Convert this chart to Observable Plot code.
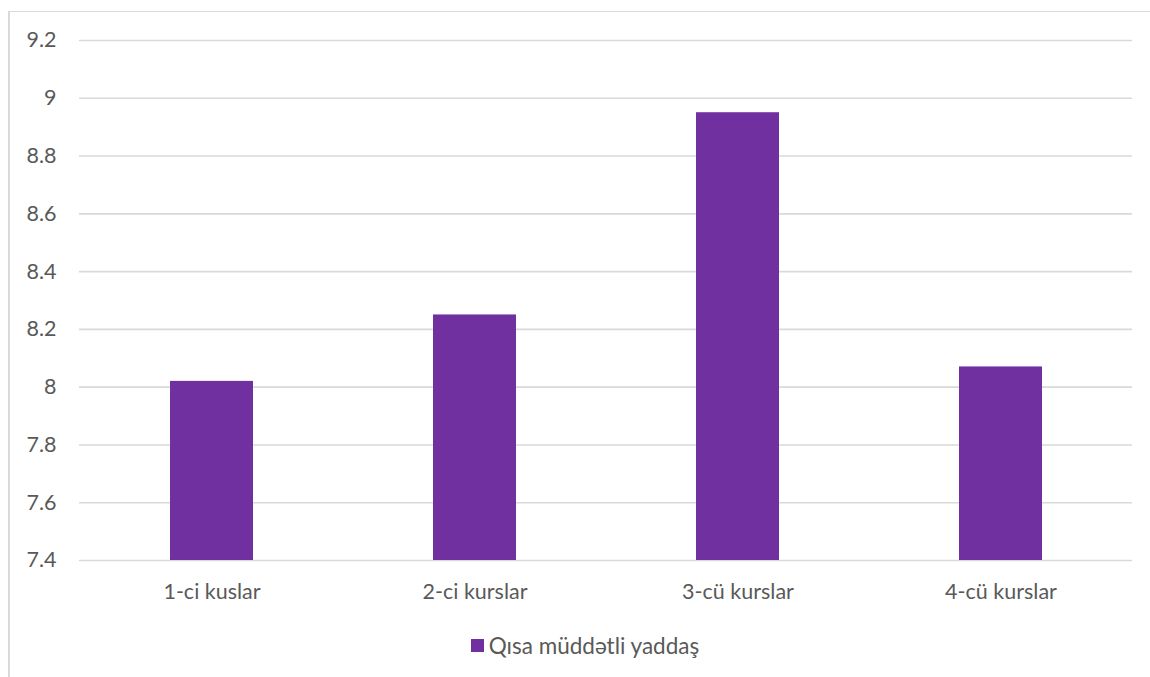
<!DOCTYPE html>
<html>
<head>
<meta charset="utf-8">
<script src="https://cdn.jsdelivr.net/npm/d3@7"></script>
<script src="https://cdn.jsdelivr.net/npm/@observablehq/plot@0.6"></script>
<style>
  html, body { margin: 0; padding: 0; background: #fff; }
  body { width: 1150px; height: 677px; position: relative; overflow: hidden; font-family: Lato, "Open Sans", sans-serif; }
  #frame { position: absolute; left: 8px; top: 11px; width: 1200px; height: 700px; border-left: 2px solid #d9d9d9; border-top: 1px solid #d9d9d9; }
  #chart { position: absolute; left: 0; top: 0; }
  #legend { position: absolute; left: 0; top: 632px; width: 1150px; box-sizing: border-box; padding-left: 20px; display: flex; justify-content: center; align-items: center; color: #595959; font-size: 22.5px; }
  #legend .sw { width: 13px; height: 13px; background: #7030A0; margin-right: 5px; }
</style>
</head>
<body>
<div id="frame"></div>
<div id="chart"></div>
<div id="legend"><span class="sw"></span><span id="legend-label"></span></div>
<script>
const categories = ["1-ci kuslar", "2-ci kurslar", "3-cü kurslar", "4-cü kurslar"];
const values = [8.02, 8.25, 8.95, 8.07];
const seriesName = "Qısa müddətli yaddaş";
const yTicks = [7.4, 7.6, 7.8, 8, 8.2, 8.4, 8.6, 8.8, 9, 9.2];
const yTickLabels = ["7.4", "7.6", "7.8", "8", "8.2", "8.4", "8.6", "8.8", "9", "9.2"];
const yMin = 7.4, yMax = 9.2;

const data = categories.map((c, i) => ({cat: c, value: values[i]}));
const labelOf = new Map(yTicks.map((t, i) => [t, yTickLabels[i]]));

const chart = Plot.plot({
  width: 1150,
  height: 620,
  marginLeft: 79,
  marginRight: 18,
  marginTop: 40,
  marginBottom: 60,
  style: {fontFamily: "Lato, 'Open Sans', sans-serif", fontSize: "21.5px", color: "#595959", background: "transparent"},
  x: {domain: categories, paddingInner: 0.685, paddingOuter: 0.3425, label: null},
  y: {domain: [yMin, yMax], label: null},
  marks: [
    Plot.gridY(yTicks, {stroke: "#d9d9d9", strokeOpacity: 1, strokeWidth: 1.6}),
    Plot.barY(data, {x: "cat", y1: () => yMin, y2: "value", fill: "#7030A0"}),
    Plot.axisY(yTicks, {tickSize: 0, tickPadding: 23, tickFormat: d => labelOf.get(d), fill: "#595959", fontSize: 21.5}),
    Plot.axisX({tickSize: 0, tickPadding: 23, fill: "#595959", fontSize: 21.5})
  ]
});
document.getElementById("chart").appendChild(chart);
document.getElementById("legend-label").textContent = seriesName;
</script>
</body>
</html>
